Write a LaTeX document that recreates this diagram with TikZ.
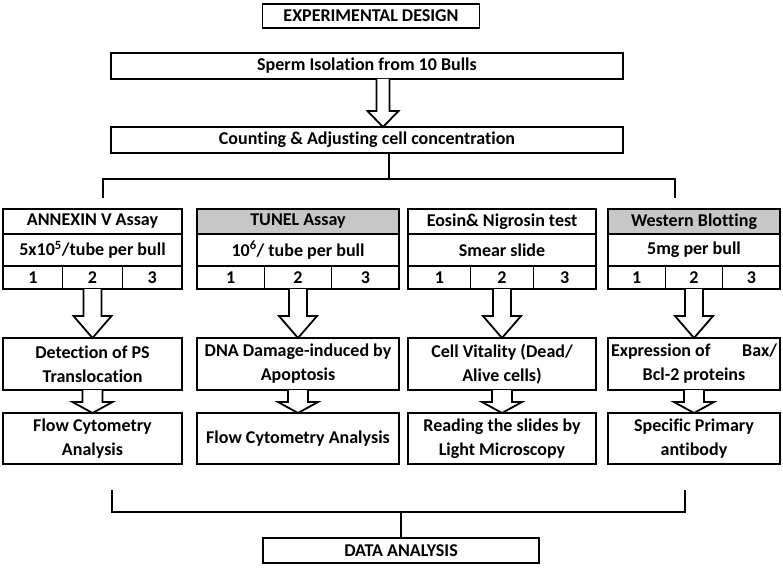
\documentclass[tikz,border=0pt]{standalone}
\usepackage{fontspec}
\setmainfont[Ligatures=NoCommon]{Carlito}
\usepackage{tikz}
\usetikzlibrary{calc}

\newcommand{\flowfont}{\fontsize{18}{24}\selectfont\bfseries}
% hollow block arrow: start, tip, shaft half width, head half width, head length
\newcommand{\hollowarrow}[5]{%
  \draw[hollow] let \p1=(#1), \p2=(#2) in
    (\x1-#3pt,\y1) -- (\x1-#3pt,\y2+#5pt) -- (\x1-#4pt,\y2+#5pt) -- (\x1,\y2)
    -- (\x1+#4pt,\y2+#5pt) -- (\x1+#3pt,\y2+#5pt) -- (\x1+#3pt,\y1);
}

\begin{document}
\begin{tikzpicture}[x=1pt, y=-1pt,
  box/.style={draw, line width=1.8pt, font=\flowfont, align=center, inner sep=2pt, outer sep=0pt},
  cell/.style={draw, line width=1.1pt, font=\flowfont, inner sep=0pt, outer sep=0pt, anchor=north west},
  tree/.style={line width=2pt},
  hollow/.style={line width=1.8pt, fill=white, line join=miter}]
  \useasboundingbox (0,0) rectangle (783,567);

  \node[box, minimum width=217, minimum height=24] (title) at (371,16) {EXPERIMENTAL DESIGN};
  \node[box, minimum width=512, minimum height=26] (sperm) at (367,66) {Sperm Isolation from 10 Bulls};
  \node[box, minimum width=512, minimum height=26] (count) at (367,140) {Counting \& Adjusting cell concentration};
  \hollowarrow{[xshift=16pt]sperm.south}{[xshift=16pt]count.north}{6.5}{15.5}{16}

  % split to the four assays
  \coordinate (topL) at (103,198);
  \coordinate (topR) at (675,198);
  \draw[tree] ([xshift=22pt]count.south) -- ++(0,26) coordinate (fork);
  \draw[tree] (topL) |- (fork) -| (topR);

  \foreach \asy/\xl/\w/\head/\amt/\fillcol in {
    annexin/3/179/{ANNEXIN V Assay}/{5x10\textsuperscript{5}/tube per bull}/white,
    tunel/197/202/{TUNEL Assay}/{10\textsuperscript{6}/ tube per bull}/black!22,
    eosin/408/188/{Eosin\& Nigrosin test}/{Smear slide}/white,
    western/608/172/{Western Blotting}/{5mg per bull}/black!22}{
    \pgfmathsetmacro{\cw}{\w/3}
    \node[cell, fill=\fillcol, minimum width=\w, minimum height=25] (\asy-h) at (\xl,209) {\head};
    \node[cell, minimum width=\w, minimum height=32] (\asy-a) at (\asy-h.south west) {\amt};
    \node[cell, minimum width=\cw, minimum height=23] (\asy-1) at (\asy-a.south west) {1};
    \node[cell, minimum width=\cw, minimum height=23] (\asy-2) at (\asy-1.north east) {2};
    \node[cell, minimum width=\cw, minimum height=23] (\asy-3) at (\asy-2.north east) {3};
  }

  \node[box, anchor=north west, minimum width=179, minimum height=52] (annexin-res) at (3,338) {Detection of PS\\Translocation};
  \node[box, anchor=north west, minimum width=202, minimum height=52] (tunel-res) at (197,338) {DNA Damage-induced by\\Apoptosis};
  \node[box, anchor=north west, minimum width=188, minimum height=52] (eosin-res) at (408,338) {Cell Vitality (Dead/\\Alive cells)};
  \node[box, anchor=north west, minimum width=172, minimum height=52] (western-res) at (608,338) {\makebox[166pt]{Expression of\hfill Bax/}\\Bcl-2 proteins};

  \node[box, anchor=north west, minimum width=179, minimum height=51] (annexin-read) at (3,413) {Flow Cytometry\\Analysis};
  \node[box, anchor=north west, minimum width=202, minimum height=51] (tunel-read) at (197,413) {Flow Cytometry Analysis};
  \node[box, anchor=north west, minimum width=188, minimum height=51] (eosin-read) at (408,413) {Reading the slides by\\Light Microscopy};
  \node[box, anchor=north west, minimum width=172, minimum height=51] (western-read) at (608,413) {Specific Primary\\antibody};

  \foreach \asy in {annexin,tunel,eosin,western}{
    \hollowarrow{\asy-2.south}{\asy-res.north}{9}{19}{22}
    \hollowarrow{\asy-res.south}{\asy-read.north}{10}{20}{11}
  }

  % join into data analysis
  \node[box, minimum width=276, minimum height=25] (data) at (401,550.5) {DATA ANALYSIS};
  \coordinate (botL) at (112,490);
  \coordinate (botR) at (685,490);
  \draw[tree] (botL) -- ++(0,22) -| (botR);
  \draw[tree] (data.north) -- ++(0,-26);
\end{tikzpicture}
\end{document}
